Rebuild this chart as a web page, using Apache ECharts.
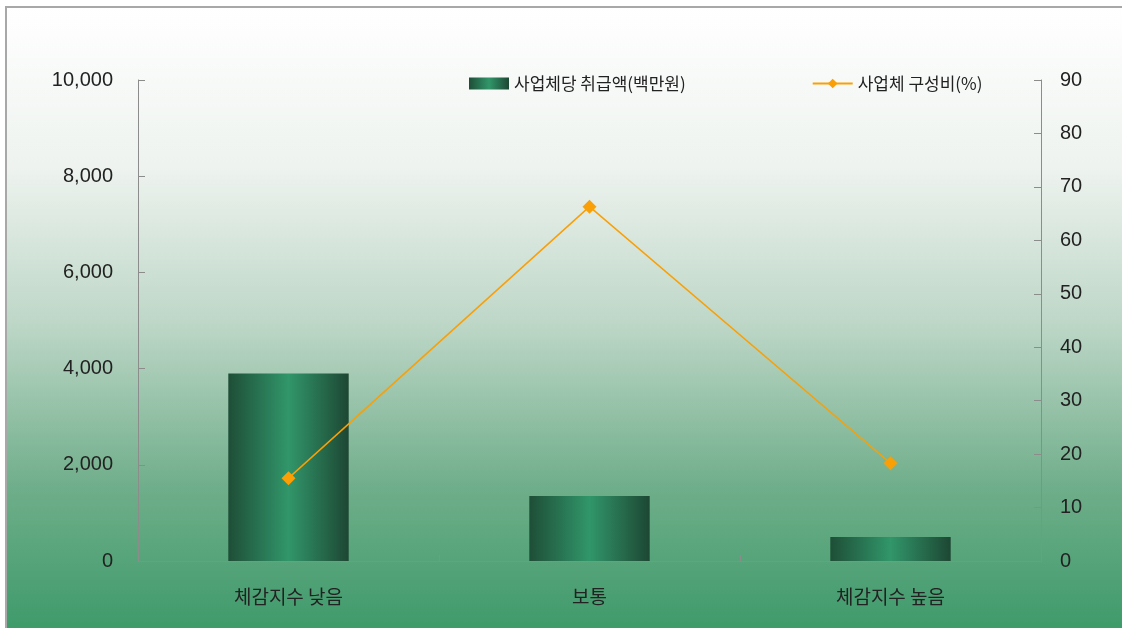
<!DOCTYPE html>
<html>
<head>
<meta charset="utf-8"/>
<title>체감지수별 사업체</title>
<script src="https://cdn.jsdelivr.net/npm/echarts@6/dist/echarts.min.js"></script>
<style>
  html, body { margin: 0; padding: 0; background: #fff; }
</style>
</head>
<body>
<div id="main" style="width: 1122px;height:628px;"></div>
<script type="text/javascript">
// 데이터
var categories = ['체감지수 낮음', '보통', '체감지수 높음'];
var amountPerFirm = [3900, 1350, 500];      // 사업체당 취급액(백만원)
var firmShare = [15.5, 66.3, 18.3];         // 사업체 구성비(%)
var seriesNames = ['사업체당 취급액(백만원)', '사업체 구성비(%)'];

var myChart = echarts.init(document.getElementById('main'));

var barColor = new echarts.graphic.LinearGradient(0, 0, 1, 0, [
    { offset: 0, color: '#1e4e37' },
    { offset: 0.5, color: '#31966a' },
    { offset: 1, color: '#1d4733' }
]);
var bgColor = new echarts.graphic.LinearGradient(0, 0, 0, 1, [
    { offset: 0, color: '#ffffff' },
    { offset: 0.25, color: '#eef3ef' },
    { offset: 0.5, color: '#bcd6c6' },
    { offset: 0.75, color: '#6fae8a' },
    { offset: 1, color: '#389866' }
]);
var axisGrey = '#8c8c8c';
var numFont = 'Liberation Sans, Arial, sans-serif';
var korFont = '"Noto Sans CJK KR", sans-serif';

var option = {
    graphic: [{
        type: 'rect',
        z: -10,
        silent: true,
        shape: { x: 6, y: 7, width: 1130, height: 640 },
        style: { fill: bgColor, stroke: '#a8a8a8', lineWidth: 2 }
    }],
    legend: {
        top: 70,
        left: 464,
        itemGap: 126,
        itemWidth: 40,
        itemHeight: 12,
        textStyle: { fontFamily: korFont, fontSize: 17, color: '#222' },
        data: [
            { name: seriesNames[0], icon: 'rect' },
            { name: seriesNames[1] }
        ]
    },
    grid: { left: 138, right: 81, top: 80, bottom: 67, containLabel: false },
    xAxis: {
        type: 'category',
        data: categories,
        axisLine: { lineStyle: { color: axisGrey, width: 1 } },
        axisTick: { show: true, inside: true, length: 6, lineStyle: { color: axisGrey } },
        axisLabel: { margin: 26, fontFamily: korFont, fontSize: 19, color: '#222' }
    },
    yAxis: [{
        type: 'value',
        min: 0, max: 10000, interval: 2000,
        splitLine: { show: false },
        axisLine: { show: true, lineStyle: { color: axisGrey } },
        axisTick: { show: true, inside: true, length: 7, lineStyle: { color: axisGrey } },
        axisLabel: {
            margin: 25, fontFamily: numFont, fontSize: 20, color: '#222',
            formatter: function (v) { return v.toLocaleString('en-US'); }
        }
    }, {
        type: 'value',
        min: 0, max: 90, interval: 10,
        splitLine: { show: false },
        axisLine: { show: true, lineStyle: { color: axisGrey } },
        axisTick: { show: true, inside: true, length: 7, lineStyle: { color: axisGrey } },
        axisLabel: { margin: 19, fontFamily: numFont, fontSize: 20, color: '#222' }
    }],
    series: [{
        name: seriesNames[0],
        type: 'bar',
        barWidth: '40%',
        itemStyle: { color: barColor },
        data: amountPerFirm
    }, {
        name: seriesNames[1],
        type: 'line',
        yAxisIndex: 1,
        symbol: 'diamond',
        symbolSize: 14,
        lineStyle: { color: '#fa9f05', width: 1.5 },
        itemStyle: { color: '#fa9f05' },
        data: firmShare
    }]
};

myChart.setOption(option);
</script>
</body>
</html>
